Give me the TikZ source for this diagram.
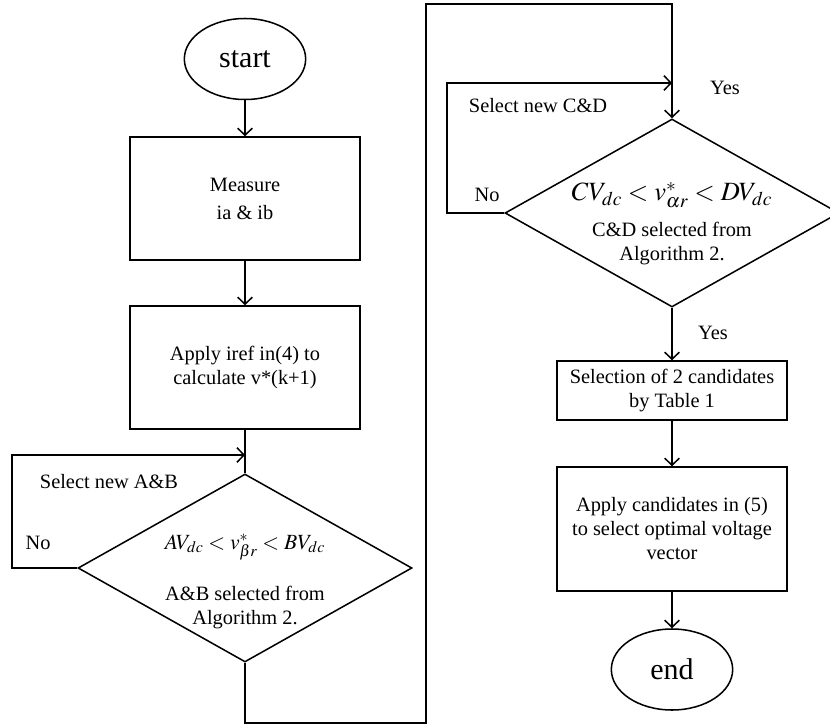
\documentclass[tikz,border=0pt]{standalone}
\usepackage{mathptmx}
\usepackage{fontspec}
\setmainfont{Liberation Serif}
\usetikzlibrary{arrows.meta, positioning, shapes.geometric}

\begin{document}
\begin{tikzpicture}[x=0.03cm, y=-0.03cm, line width=1.3pt,
    box/.style={draw, rectangle, align=center, font=\fontsize{17.4}{20.5}\selectfont, minimum width=6.9cm},
    oval/.style={draw, ellipse, font=\fontsize{25.6}{28}\selectfont, minimum width=3.64cm, minimum height=2.43cm, inner sep=0pt},
    check/.style={draw, diamond, minimum width=10.02cm, minimum height=5.64cm, inner sep=0pt},
    txt/.style={align=center, font=\fontsize{17.4}{20.5}\selectfont, inner sep=0pt},
    flow/.style={-{Straight Barb[length=2.1mm, width=4.4mm]}}]

    \useasboundingbox (0,0) rectangle (830,726);

    % left column
    \node[oval] (start) at (245,59) {start};
    \node[box, minimum height=3.69cm] (measure) at (245,198.5) {Measure\\[3.4pt]ia \& ib};
    \node[box, minimum height=3.69cm] (apply) at (245,367.5) {Apply iref in(4) to\\calculate v*(k+1)};
    \node[check] (chkAB) at (245,568) {};
    \node[txt, font=\fontsize{18.5}{21}\selectfont] (mathAB) at (245,547) {$AV_{dc} < v^{*}_{\beta r} < BV_{dc}$};
    \node[txt] (noteAB) at (245,608) {A\&B selected from\\Algorithm 2.};
    \node[txt] (noAB) at (38,543) {No};
    \node[txt] (selAB) at (109,482) {Select new A\&B};

    \draw[flow] (start) -- (measure);
    \draw[flow] (measure) -- (apply);
    \coordinate (joinAB) at (245,455);
    \draw (apply) -- (chkAB);
    \draw[flow] (chkAB.west) -- ++(-65,0) |- (joinAB);

    % right column
    \node[check] (chkCD) at (672,213) {};
    \node[txt, font=\fontsize{22.5}{25}\selectfont] (mathCD) at (672,195) {$CV_{dc} < v^{*}_{\alpha r} < DV_{dc}$};
    \node[txt] (noteCD) at (672,244) {C\&D selected from\\Algorithm 2.};
    \node[txt] (noCD) at (487,195) {No};
    \node[txt] (selCD) at (538,106) {Select new C\&D};
    \node[txt] (yesCD) at (725,88) {Yes};
    \node[box, minimum height=1.77cm] (select) at (672,390.5) {Selection of 2 candidates\\by Table 1};
    \node[txt] (yesSel) at (713,333) {Yes};
    \node[box, minimum height=3.72cm] (cand) at (672,529) {Apply candidates in (5)\\to select optimal voltage\\vector};
    \node[oval] (finish) at (672,669.5) {end};

    \coordinate (joinCD) at (672,83);
    \draw[flow] (chkCD.west) -- ++(-57,0) |- (joinCD);
    \draw[flow] (chkCD.south) -- (select);
    \draw[flow] (select) -- (cand);
    \draw[flow] (cand) -- (finish);

    % long way round from the left diamond to the right one
    \coordinate (upper) at (426,4);
    \draw[flow] (chkAB.south) -- ++(0,60) -| (upper) -| (chkCD.north);
\end{tikzpicture}
\end{document}
